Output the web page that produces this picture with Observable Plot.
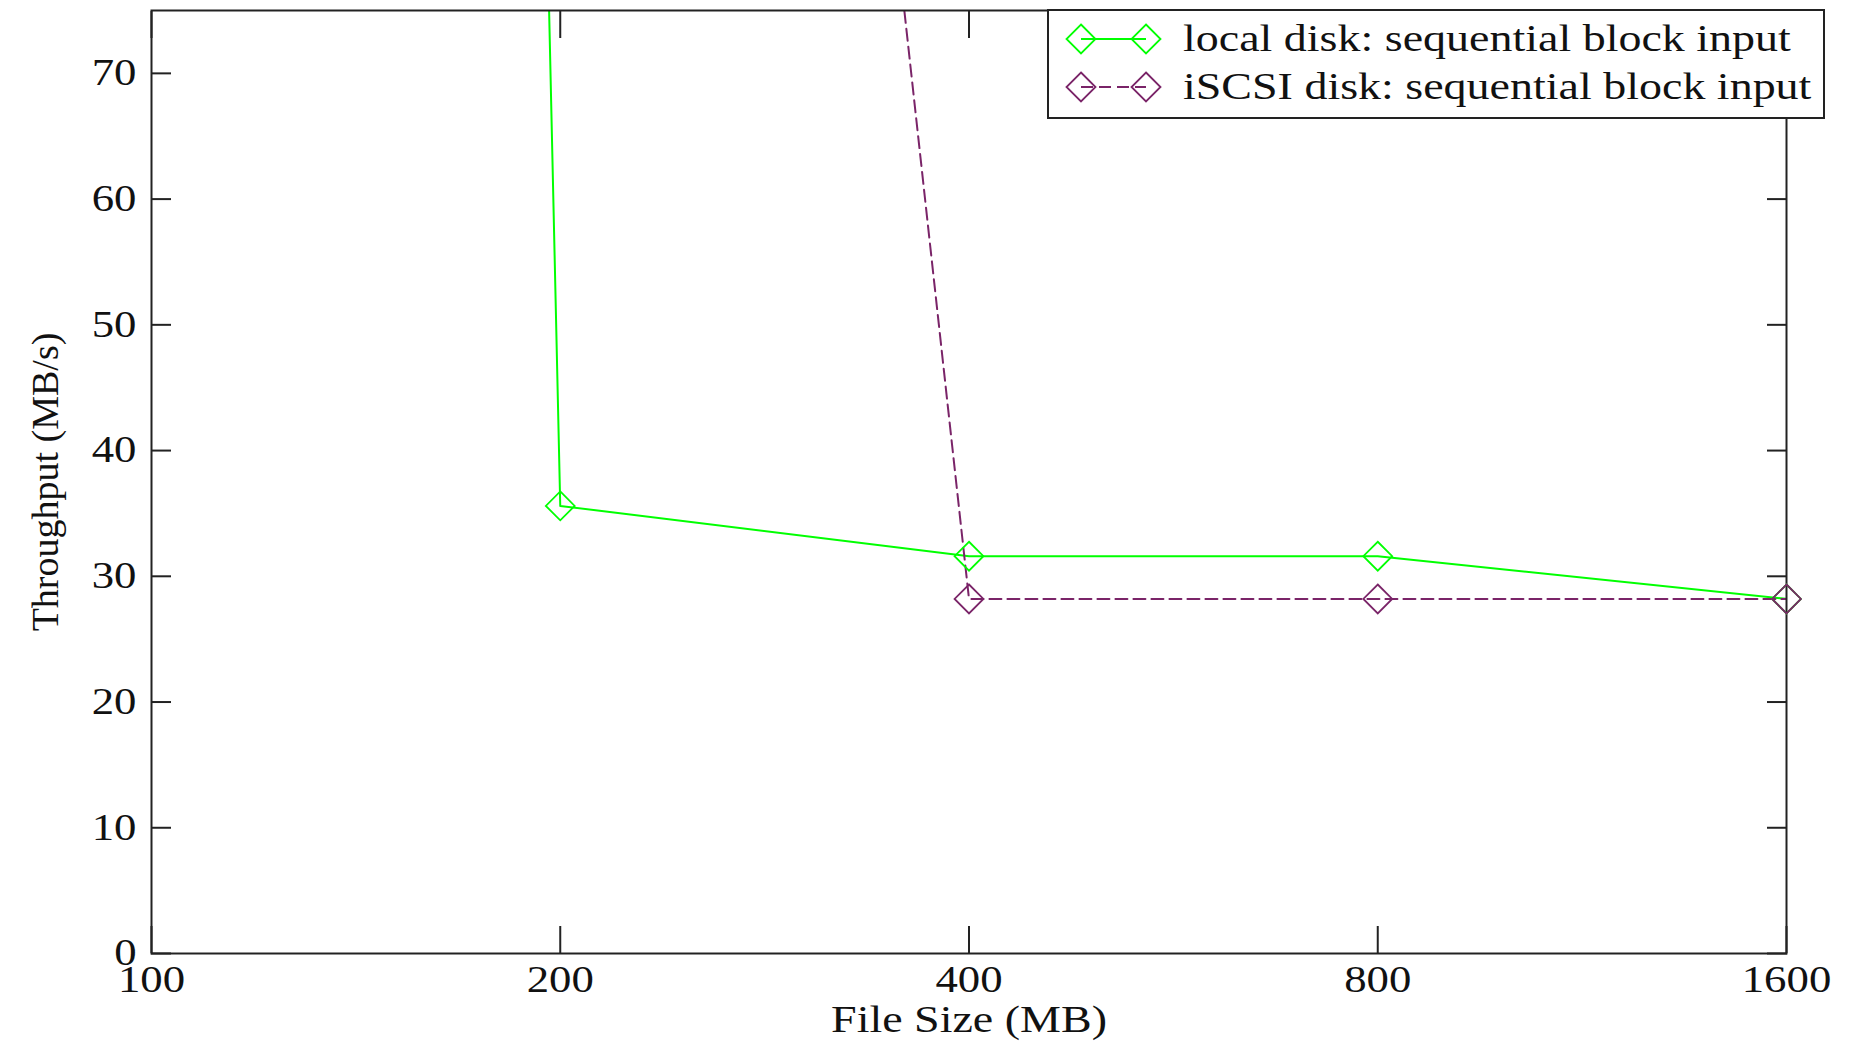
<!DOCTYPE html>
<html><head><meta charset="utf-8">
<script src="https://cdn.jsdelivr.net/npm/d3@7"></script>
<script src="https://cdn.jsdelivr.net/npm/@observablehq/plot@0.6"></script>
<style>html,body{margin:0;padding:0;background:#fff;} #chart{width:1849px;height:1042px;position:relative;}</style>
</head><body><div id="chart"></div>
<script>
const fileSizes = [100, 200, 400, 800, 1600];
const localDisk = [1480, 35.6, 31.6, 31.6, 28.2];
const iscsiSizes = [200, 400, 800, 1600];
const iscsiDisk = [324, 28.2, 28.2, 28.2];
const xTicks = [100, 200, 400, 800, 1600];
const yTicks = [0, 10, 20, 30, 40, 50, 60, 70];
const yMax = 75;
const seriesNames = ["local disk: sequential block input", "iSCSI disk: sequential block input"];
const seriesColors = ["#00ff00", "#7a2468"];
const xLabel = "File Size (MB)";
const yLabel = "Throughput (MB/s)";

const localData = fileSizes.map((x, i) => ({x, y: localDisk[i], s: seriesNames[0]}));
const iscsiData = iscsiSizes.map((x, i) => ({x, y: iscsiDisk[i], s: seriesNames[1]}));

const FONT = '"Liberation Serif", "Times New Roman", serif';
const INK = "#222";
const inView = d => d.y <= yMax;
const chart = Plot.plot({
  width: 1849, height: 1042,
  marginLeft: 151, marginRight: 63, marginTop: 10, marginBottom: 89,
  style: {fontFamily: FONT, fontSize: "37px", color: "#111", background: "#fff"},
  x: {type: "log", base: 2, domain: [100, 1600]},
  y: {domain: [0, yMax]},
  marks: [
    Plot.line(localData, {x: "x", y: "y", stroke: seriesColors[0], strokeWidth: 2, clip: true}),
    Plot.line(iscsiData, {x: "x", y: "y", stroke: seriesColors[1], strokeWidth: 2, strokeDasharray: "12,6", clip: true}),
    Plot.axisY({anchor: "left", ticks: yTicks, tickSize: -20, tickPadding: 35, tickFormat: d => String(d), label: null, stroke: INK, strokeWidth: 2}),
    Plot.axisY({anchor: "right", ticks: yTicks, tickSize: -20, tickFormat: () => "", label: null, stroke: INK, strokeWidth: 2}),
    Plot.axisX({anchor: "bottom", ticks: xTicks, tickSize: -27, tickPadding: 39, tickFormat: d => String(d), label: null, stroke: INK, strokeWidth: 2}),
    Plot.axisX({anchor: "top", ticks: xTicks, tickSize: -27, tickFormat: () => "", label: null, stroke: INK, strokeWidth: 2}),
    Plot.frame({stroke: INK, strokeWidth: 2}),
    Plot.dot(localData, {filter: inView, x: "x", y: "y", symbol: "diamond2", r: 13, stroke: seriesColors[0], strokeWidth: 1.8, fill: "none"}),
    Plot.dot(iscsiData, {filter: inView, x: "x", y: "y", symbol: "diamond2", r: 13, stroke: seriesColors[1], strokeWidth: 1.8, fill: "none"}),
    Plot.text([xLabel], {frameAnchor: "bottom", dy: 66, text: d => d, fontSize: 38, textAnchor: "middle", lineAnchor: "middle"}),
    Plot.text([yLabel], {frameAnchor: "left", dx: -106, rotate: -90, text: d => d, fontSize: 38, textAnchor: "middle", lineAnchor: "middle"})
  ]
});
document.getElementById("chart").appendChild(chart);

// legend
const svg = d3.select(chart);
const lg = svg.append("g");
lg.append("rect").attr("x", 1048).attr("y", 10).attr("width", 776).attr("height", 108)
  .attr("fill", "#fff").attr("stroke", INK).attr("stroke-width", 2);
const rowsY = [39, 87];
const dashes = [null, "12,6"];
const diamond = "M0,-14.5L14.5,0L0,14.5L-14.5,0Z";
seriesNames.forEach((name, i) => {
  const g = lg.append("g");
  g.append("line").attr("x1", 1081).attr("x2", 1146).attr("y1", rowsY[i]).attr("y2", rowsY[i])
    .attr("stroke", seriesColors[i]).attr("stroke-width", 2).attr("stroke-dasharray", dashes[i]);
  [1081, 1146].forEach(cx => g.append("path").attr("d", diamond)
    .attr("transform", `translate(${cx},${rowsY[i]})`).attr("fill", "none")
    .attr("stroke", seriesColors[i]).attr("stroke-width", 1.8));
  g.append("text").attr("x", 1183).attr("y", rowsY[i]).attr("dy", "0.32em")
    .attr("text-anchor", "start")
    .attr("font-size", 38).attr("font-family", FONT).attr("fill", "#111").text(name);
});

// horizontally stretched glyphs, as in the reference
chart.querySelectorAll("text").forEach(t => {
  if (!t.textContent || t.textContent === yLabel) return;
  const w = t.getComputedTextLength();
  if (w > 0) { t.setAttribute("textLength", w * 1.21); t.setAttribute("lengthAdjust", "spacingAndGlyphs"); }
});
</script>
</body></html>
